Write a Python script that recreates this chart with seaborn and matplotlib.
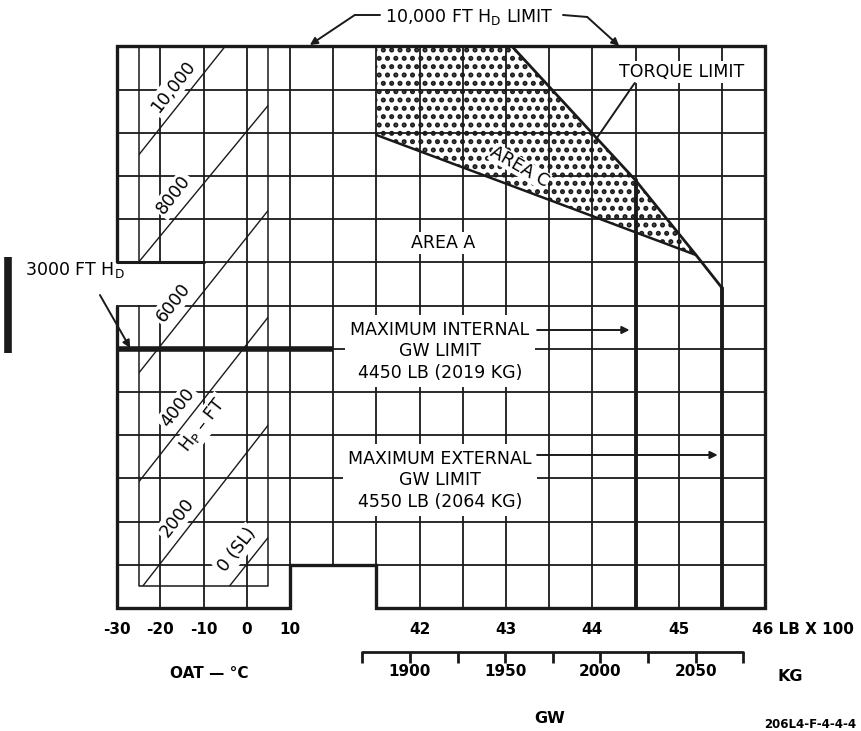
import numpy as np
import pandas as pd
import matplotlib
matplotlib.use('Agg')
import matplotlib.pyplot as plt
from matplotlib.patches import Rectangle, Polygon
import seaborn as sns

# ---- chart values ----
oat_ticks = [-30, -20, -10, 0, 10]          # OAT, deg C
gw_ticks = [42, 43, 44, 45]                 # GW, lb x 100
kg_ticks = [1875, 1900, 1925, 1950, 1975, 2000, 2025, 2050, 2075]
kg_labels = [1900, 1950, 2000, 2050]

# pressure altitude lines, read as density altitude at -25 C and +5 C
pa_names = ['0 (SL)', '2000', '4000', '6000', '8000', '10,000']
pa_oat = [-25, 5]
pa_hd_cold = [-5130, -2610, -80, 2440, 5010, 7490]
pa_hd_warm = [-1360, 1240, 3740, 6210, 8640, 11260]

# area C (shaded) and torque limit, GW lb vs HD ft
area_c_gw = [4150, 4307, 4450, 4520, 4150]
area_c_hd = [10000, 10000, 6900, 5170, 7950]
torque_gw = [4307, 4450, 4520, 4550]
torque_hd = [10000, 6900, 5170, 4410]
internal_gw = 4450
external_gw = 4550
hd_top = 10000
hd_3000 = 3000

gw_min, gw_max = 3850, 4600
hd_min, hd_max = -3000, 10000


def oat_x(c):
    # OAT scale shares the grid with GW: 10 C per 50 lb cell
    return gw_min + 5 * (np.asarray(c, dtype=float) + 30)


def kg_x(kg):
    return np.asarray(kg, dtype=float) * 2.20462


sns.set_theme(style='white')
plt.rcParams['font.family'] = ['DejaVu Sans']
plt.rcParams['text.color'] = 'black'
plt.rcParams['hatch.linewidth'] = 2.4

fig = plt.figure(figsize=(8.61, 7.31), dpi=100)
ax = fig.add_axes([0, 0, 1, 1])

# grid
ax.vlines(np.arange(gw_min, gw_max + 1, 50), hd_min, hd_max, color='k', lw=1.3, zorder=2)
ax.hlines(np.arange(hd_min, hd_max + 1, 1000), gw_min, gw_max, color='k', lw=1.3, zorder=2)

# shaded area C
ax.fill(area_c_gw, area_c_hd, facecolor='white', edgecolor='k', hatch='..', lw=0, zorder=1.5)

# inner OAT box for the pressure altitude lines
bx = oat_x(pa_oat)
ax.plot([bx[0], bx[0], bx[1], bx[1]], [hd_max, -2500, -2500, hd_max], color='k', lw=1.1, zorder=2)

# pressure altitude lines
df = pd.DataFrame({
    'pa': np.repeat(pa_names, 2),
    'x': np.tile(oat_x(pa_oat), len(pa_names)),
    'hd': np.ravel(np.column_stack([pa_hd_cold, pa_hd_warm])),
})
n0 = len(ax.lines)
sns.lineplot(data=df, x='x', y='hd', units='pa', estimator=None, sort=False,
             color='k', lw=1.0, legend=False, ax=ax)
clip = Rectangle((bx[0], -2500), bx[1] - bx[0], hd_max + 2500, transform=ax.transData)
for ln in ax.lines[n0:]:
    ln.set_clip_path(clip)
    ln.set_zorder(2)

# gaps in the frame
ax.add_patch(Rectangle((gw_min - 5, 4010), 58, 980, fc='white', ec='none', zorder=3))
ax.add_patch(Rectangle((4050, hd_min - 100), 100, 1080, fc='white', ec='none', zorder=3))
frame = [(gw_min, 5000), (gw_min, hd_max), (gw_max, hd_max), (gw_max, hd_min), (4150, hd_min),
         (4150, -2000), (4050, -2000), (4050, hd_min), (gw_min, hd_min), (gw_min, 4000)]
ax.add_patch(Polygon(frame, closed=False, fill=False, ec='k', lw=2.4, zorder=5))
ax.plot([gw_min, 3950], [5000, 5000], color='k', lw=2.2, zorder=5)

# limit lines
ax.plot([area_c_gw[-1], area_c_gw[3]], [area_c_hd[-1], area_c_hd[3]], color='k', lw=1.8, zorder=4)
ax.plot(torque_gw, torque_hd, color='k', lw=2.0, zorder=4)
ax.plot([internal_gw, internal_gw], [torque_hd[1], hd_min], color='k', lw=2.8, zorder=4)
ax.plot([external_gw, external_gw], [torque_hd[-1], hd_min], color='k', lw=2.8, zorder=4)
ax.plot([gw_min, 4100], [hd_3000, hd_3000], color='k', lw=4, solid_capstyle='butt', zorder=4)

# revision bar at the far left
ax.plot([3723.6, 3723.6], [2903, 5125], color='k', lw=5.5, solid_capstyle='butt')

# text
wbox = dict(boxstyle='square,pad=0.12', fc='white', ec='none')
ann = dict(fontsize=12.5, ha='center', va='center', zorder=6)
arr = dict(arrowstyle='-|>', color='k', lw=1.4, shrinkA=0, shrinkB=0, mutation_scale=11)

ang = 52
for name, xx, yy in zip(pa_names, [3988.7, 3919.2, 3920.4, 3914.8, 3915.7, 3914.8],
                        [-1657, -917, 1630, 4060, 6560, 9060]):
    ax.text(xx, yy, name, rotation=ang, bbox=wbox, **ann)
ax.text(3949.3, 1236, r'H$_\mathregular{P}$ – FT', rotation=ang, bbox=wbox, **ann)

ax.text(4258, 10681, r'10,000 FT H$_\mathregular{D}$ LIMIT', **ann)
ax.plot([4154, 4125], [10727, 10727], color='k', lw=1.4)
ax.annotate('', xy=(4073, 10032), xytext=(4125, 10727), arrowprops=arr)
ax.plot([4366, 4394], [10727, 10681], color='k', lw=1.4)
ax.annotate('', xy=(4431, 10010), xytext=(4394, 10681), arrowprops=arr)

ax.text(4503, 9407, 'TORQUE LIMIT', bbox=wbox, **ann)
ax.plot([4449, 4405], [9153, 7875], color='k', lw=1.4, zorder=6)
ax.text(4316, 7208, 'AREA C', rotation=-30, bbox=dict(boxstyle='square,pad=0.02', fc='white', ec='none'), **ann)
ax.text(4227, 5449, 'AREA A', bbox=wbox, **ann)

ax.text(4223.6, 2949, 'MAXIMUM INTERNAL\nGW LIMIT\n4450 LB (2019 KG)', linespacing=1.25,
        bbox=dict(boxstyle='square,pad=0.3', fc='white', ec='none'), **ann)
ax.annotate('', xy=(4443, 3435), xytext=(4336, 3435), arrowprops=arr, zorder=6)
ax.text(4223.6, -37, 'MAXIMUM EXTERNAL\nGW LIMIT\n4550 LB (2064 KG)', linespacing=1.25,
        bbox=dict(boxstyle='square,pad=0.3', fc='white', ec='none'), **ann)
ax.annotate('', xy=(4545, 542), xytext=(4336, 542), arrowprops=arr, zorder=6)

ax.text(3743, 4824, r'3000 FT H$_\mathregular{D}$', fontsize=12.5, ha='left', va='center')
ax.annotate('', xy=(3865, 3019), xytext=(3830, 4245), arrowprops=arr, zorder=6)

# axis scales
tk = dict(fontsize=11, fontweight='bold', ha='center', va='center')
for c in oat_ticks:
    ax.text(oat_x(c), -3509, str(c), **tk)
for g in gw_ticks:
    ax.text(g * 100, -3509, str(g), **tk)
ax.text(4584.7, -3509, '46 LB X 100', fontsize=11, fontweight='bold', ha='left', va='center')

kx = kg_x(kg_ticks)
ax.plot([kx[0], kx[-1]], [-4019, -4019], color='k', lw=2)
ax.vlines(kx, -4273, -4019, color='k', lw=2)
for k in kg_labels:
    ax.text(kg_x(k), -4481, str(k), **tk)
ax.text(4628.6, -4574, 'KG', fontsize=11.5, fontweight='bold', ha='center', va='center')
ax.text(3956.5, -4505, 'OAT — °C', **tk)
ax.text(4351, -5569, 'GW', fontsize=11.5, fontweight='bold', ha='center', va='center')
ax.text(4652, -5708, '206L4-F-4-4-4', fontsize=8.5, fontweight='bold', ha='center', va='center')

ax.set_xlim(3714.35, 4710.9)
ax.set_ylim(-5847, 11074)
ax.set_axis_off()

fig.savefig('out.png', dpi=100)
